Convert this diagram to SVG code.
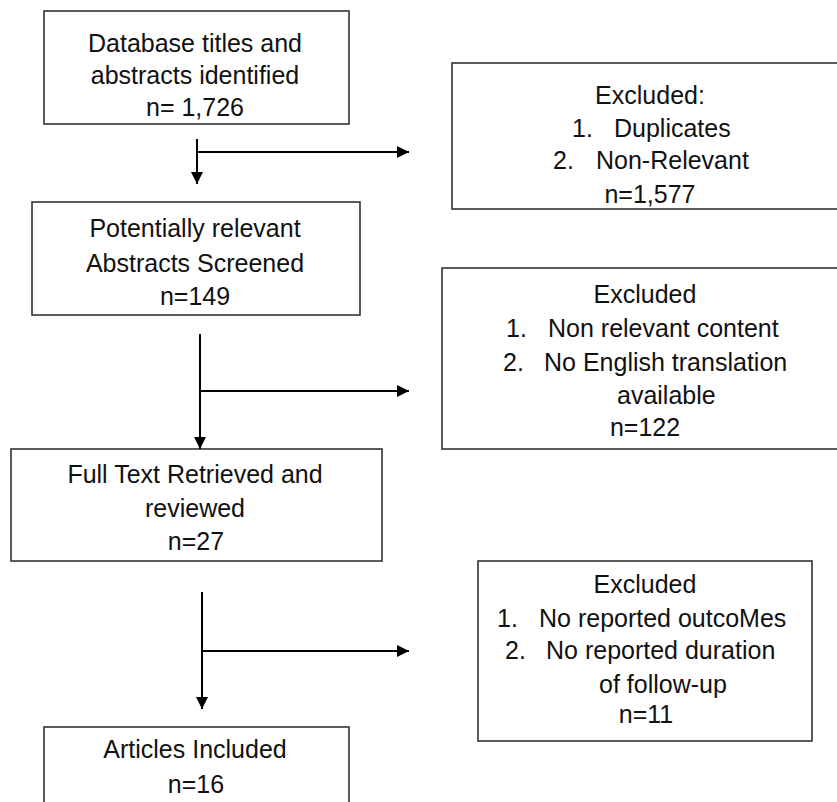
<svg xmlns="http://www.w3.org/2000/svg" width="837" height="802" viewBox="0 0 837 802">
<defs>
<marker id="ah" markerUnits="userSpaceOnUse" markerWidth="12" markerHeight="12" viewBox="0 0 10 10" refX="10" refY="5" orient="auto">
<path d="M0,0 L10,5 L0,10 Z" fill="#000"/>
</marker>
</defs>
<style>
.box{fill:#fff;stroke:#333;stroke-width:1.6}
.t{font-family:"Liberation Sans",Arial,sans-serif;font-size:25px;fill:#111}
.c{text-anchor:middle}
.ln{fill:none;stroke:#000;stroke-width:2}
</style>
<rect width="837" height="802" fill="#fff"/>
<g id="n1">
<rect class="box" x="44" y="11" width="305" height="113"/>
<text class="t c" x="195" y="52">Database titles and</text>
<text class="t c" x="195" y="84">abstracts identified</text>
<text class="t c" x="195" y="116">n= 1,726</text>
</g>
<g id="x1">
<rect class="box" x="452" y="63" width="390" height="146"/>
<text class="t c" x="650" y="104">Excluded:</text>
<text class="t" x="572" y="137">1.</text>
<text class="t" x="614" y="137">Duplicates</text>
<text class="t" x="553" y="169">2.</text>
<text class="t" x="596" y="169">Non-Relevant</text>
<text class="t c" x="650" y="203">n=1,577</text>
</g>
<g id="n2">
<rect class="box" x="32" y="202" width="328" height="113"/>
<text class="t c" x="195" y="237">Potentially relevant</text>
<text class="t c" x="195" y="272">Abstracts Screened</text>
<text class="t c" x="195" y="305">n=149</text>
</g>
<g id="x2">
<rect class="box" x="442" y="268" width="400" height="181"/>
<text class="t c" x="645" y="303">Excluded</text>
<text class="t" x="506" y="337">1.</text>
<text class="t" x="548" y="337">Non relevant content</text>
<text class="t" x="503" y="371">2.</text>
<text class="t" x="544" y="371">No English translation</text>
<text class="t" x="617" y="404">available</text>
<text class="t c" x="645" y="436">n=122</text>
</g>
<g id="n3">
<rect class="box" x="11" y="449" width="371" height="112"/>
<text class="t c" x="195" y="483">Full Text Retrieved and</text>
<text class="t c" x="195" y="517">reviewed</text>
<text class="t c" x="196" y="550">n=27</text>
</g>
<g id="x3">
<rect class="box" x="478" y="561" width="334" height="180"/>
<text class="t c" x="645" y="593">Excluded</text>
<text class="t" x="497" y="627">1.</text>
<text class="t" x="539" y="627">No reported outcoMes</text>
<text class="t" x="505" y="659">2.</text>
<text class="t" x="546" y="659">No reported duration</text>
<text class="t" x="599" y="693">of follow-up</text>
<text class="t c" x="646" y="723">n=11</text>
</g>
<g id="n4">
<rect class="box" x="44" y="727" width="305" height="90"/>
<text class="t c" x="195" y="758">Articles Included</text>
<text class="t c" x="196" y="793">n=16</text>
</g>
<g id="connectors">
<path class="ln" d="M197,139 V184" marker-end="url(#ah)"/>
<path class="ln" d="M197,152 H409" marker-end="url(#ah)"/>
<path class="ln" d="M200,334 V449" marker-end="url(#ah)"/>
<path class="ln" d="M200,391 H409" marker-end="url(#ah)"/>
<path class="ln" d="M202,592 V709" marker-end="url(#ah)"/>
<path class="ln" d="M202,651 H409" marker-end="url(#ah)"/>
</g>
</svg>
